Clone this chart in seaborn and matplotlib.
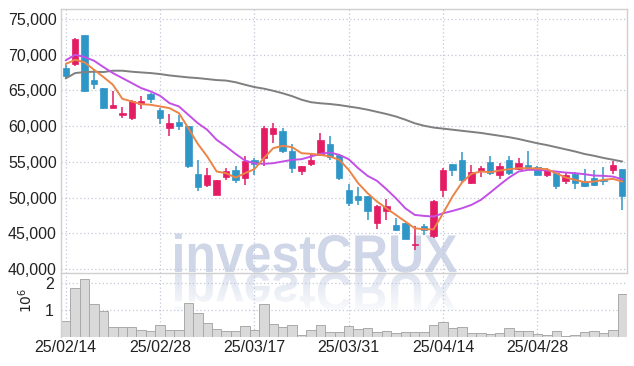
import numpy as np
import pandas as pd
import matplotlib
matplotlib.use('Agg')
import matplotlib.pyplot as plt
import seaborn as sns
from matplotlib.textpath import TextPath
from matplotlib.patches import PathPatch
from matplotlib.font_manager import FontProperties
from matplotlib import transforms

# ---------------- data ----------------
opens = [68150, 68700, 72800, 66450, 65400, 62600, 61500, 61100, 63100, 64550,
         62300, 59800, 60600, 60050, 53300, 51800, 50350, 52850, 53900, 52800,
         55300, 55600, 58950, 59350, 56450, 53650, 54650, 55950, 57500, 55950,
         51050, 50250, 50250, 46400, 48050, 46150, 46500, 43300, 45950, 44550,
         51000, 54700, 55300, 52100, 53750, 54950, 53100, 55300, 53950, 54500,
         54250, 53200, 53500, 52250, 53300, 52350, 52800, 52500, 53800, 54000]
highs = [68600, 72350, 72800, 67950, 65400, 64900, 62650, 63700, 64250, 64700,
         62600, 61700, 61600, 60050, 55200, 54100, 52500, 54100, 54350, 55850,
         55500, 59950, 60400, 59700, 57500, 54400, 56300, 59000, 58550, 55950,
         51950, 51450, 50250, 48950, 49750, 47100, 46500, 45950, 46350, 49650,
         54100, 54700, 56400, 54500, 54350, 55750, 54800, 55750, 55500, 56550,
         54450, 54100, 53500, 53400, 53600, 54000, 53800, 54300, 55150, 54000]
lows = [66600, 68350, 64800, 65200, 62450, 62600, 61200, 60800, 62450, 63250,
        60350, 58550, 59400, 54100, 50950, 51500, 50350, 52450, 52100, 51780,
        53150, 54350, 57600, 56200, 53500, 53200, 54400, 55750, 55300, 52450,
        48750, 48950, 46850, 45550, 46850, 45350, 44200, 42650, 44800, 44300,
        50050, 53000, 52050, 51950, 52900, 53150, 52650, 53150, 53850, 53900,
        53100, 52850, 51250, 51900, 51250, 51450, 51550, 51800, 53300, 48200]
closes = [66950, 72200, 64850, 65950, 62600, 63000, 61800, 63450, 63550, 63850,
          61200, 60400, 59950, 54350, 51450, 53200, 52500, 53650, 52400, 55150,
          54650, 59800, 59800, 56450, 54200, 54350, 55300, 58100, 55650, 52800,
          49300, 49600, 48050, 48850, 48750, 45400, 44250, 43450, 45400, 49550,
          53900, 53800, 52500, 53550, 54100, 53400, 54450, 53400, 54800, 54200,
          53200, 53900, 51650, 53100, 52100, 51550, 51800, 52350, 54600, 50250]
ma_short = [68690, 69300, 68925, 67900, 66870, 65800, 63830, 63460, 63080, 62990,
            62760, 62520, 61820, 59720, 57520, 55750, 53650, 53410, 52800, 53410,
            53970, 55510, 56920, 57240, 57060, 56210, 56120, 55980, 55750, 55280,
            53880, 52010, 50610, 49440, 48500, 47570, 46640, 45700, 45560, 45560,
            47800, 50140, 52100, 53320, 53650, 53550, 53790, 53970, 54110, 54110,
            54070, 53970, 53410, 52800, 52480, 52150, 52240, 52480, 52620, 52240]
ma_mid = [69206, 70000, 69670, 69160, 68270, 67430, 66730, 66030, 65330, 64860,
          64250, 63220, 62760, 61590, 60420, 59490, 58080, 57150, 56120, 55190,
          54810, 54720, 54810, 55050, 55280, 55370, 55750, 56120, 56310, 55980,
          55370, 54110, 53040, 52340, 51170, 49910, 48500, 47570, 47430, 47340,
          47800, 48130, 48500, 48970, 49670, 50700, 51780, 52800, 53640, 53880,
          53880, 53790, 53640, 53500, 53410, 53270, 53080, 53040, 52940, 52570]
ma_long = [66680, 67430, 67570, 67620, 67570, 67760, 67760, 67620, 67520, 67430,
           67290, 67100, 66960, 66820, 66730, 66590, 66450, 66380, 66150, 65800,
           65470, 65250, 64950, 64600, 64200, 63700, 63350, 63200, 63100, 62950,
           62750, 62550, 62300, 62000, 61700, 61350, 60900, 60400, 60050, 59800,
           59650, 59500, 59350, 59200, 59050, 58850, 58650, 58450, 58200, 57900,
           57600, 57350, 57050, 56750, 56450, 56100, 55850, 55550, 55300, 55050]
volume_m = [0.58, 1.83, 2.16, 1.21, 0.98, 0.38, 0.38, 0.38, 0.27, 0.23,
            0.46, 0.27, 0.27, 1.27, 0.90, 0.53, 0.31, 0.23, 0.23, 0.41,
            0.27, 1.23, 0.49, 0.38, 0.46, 0.09, 0.27, 0.46, 0.20, 0.20,
            0.42, 0.31, 0.35, 0.20, 0.23, 0.16, 0.20, 0.20, 0.20, 0.46,
            0.57, 0.35, 0.38, 0.16, 0.16, 0.12, 0.16, 0.35, 0.23, 0.23,
            0.12, 0.09, 0.23, 0.05, 0.09, 0.20, 0.23, 0.16, 0.27, 1.60]
date_tick_pos = [0, 10, 20, 30, 40, 50]
date_tick_labels = ['25/02/14', '25/02/28', '25/03/17', '25/03/31', '25/04/14', '25/04/28']
price_ticks = [40000, 45000, 50000, 55000, 60000, 65000, 70000, 75000]
volume_ticks = [1, 2]

df = pd.DataFrame({'idx': np.arange(len(opens)), 'open': opens, 'high': highs,
                   'low': lows, 'close': closes, 'ma_s': ma_short, 'ma_m': ma_mid,
                   'ma_l': ma_long, 'vol': volume_m})

# ---------------- style ----------------
sns.set_theme(style='white')
plt.rcParams['font.family'] = ['Liberation Sans Narrow', 'Liberation Sans', 'DejaVu Sans']

UP = '#e41c64'
DOWN = '#2f96c8'
GRID = '#c3c8d8'
TXT = '#222222'
TICKFONT = dict(size=11.5)

W, H = 634, 366
fig = plt.figure(figsize=(W / 100, H / 100), dpi=100)
fig.patch.set_facecolor('white')


def rect(l, t, r, b):
    return [l / W, 1 - b / H, (r - l) / W, (b - t) / H]


ax = fig.add_axes(rect(61, 9, 627, 272.7))
axv = fig.add_axes(rect(61, 272.7, 627, 337))
for a in (ax, axv):
    a.set_facecolor('none')

# ---------------- watermark ----------------
fp = FontProperties(family='Liberation Sans', weight='bold')
tp = TextPath((0, 0), 'investCRUX', size=50, prop=fp)
bb = tp.get_extents()
x0, x1, top, base = 175, 457, 233.5, 272.7
sx = (x1 - x0) / bb.width
sy = (base - top) / bb.height
to_in = transforms.Affine2D().scale(1 / 100.0)
tr_main = (transforms.Affine2D().translate(-bb.x0, -bb.y0).scale(sx, sy)
           .translate(x0, H - base) + to_in + fig.dpi_scale_trans)
tr_refl = (transforms.Affine2D().translate(-bb.x0, -bb.y0).scale(sx, -sy)
           .translate(x0, H - base) + to_in + fig.dpi_scale_trans)
wm = PathPatch(tp, transform=tr_main, facecolor='#cfd6e7', edgecolor='none', zorder=-2)
wr = PathPatch(tp, transform=tr_refl, facecolor='#dae0ed', edgecolor='none', zorder=-2)
fig.add_artist(wm)
fig.add_artist(wr)
# fade for reflection
gh = 45
grad = np.ones((gh, 330, 4))
grad[..., 3] = np.linspace(0.1, 1.0, gh)[:, None]
fig.figimage(grad, xo=160, yo=int(H - base - gh), origin='upper', zorder=-1)

# ---------------- candles ----------------
up = df['close'] >= df['open']
colors = np.where(up, UP, DOWN)
body_bottom = np.minimum(df['open'], df['close'])
body_h = np.maximum(np.abs(df['close'] - df['open']), 80)
ax.vlines(df['idx'], df['low'], df['high'], colors=colors, linewidth=1.1, zorder=2)
ax.bar(df['idx'], body_h, bottom=body_bottom, width=0.68, color=colors,
       edgecolor=colors, linewidth=0.5, zorder=2.5)

# moving averages
sns.lineplot(data=df, x='idx', y='ma_l', ax=ax, color='#7f7f7f', linewidth=1.4, zorder=3)
sns.lineplot(data=df, x='idx', y='ma_m', ax=ax, color='#c350e6', linewidth=1.4, zorder=3)
sns.lineplot(data=df, x='idx', y='ma_s', ax=ax, color='#ec8447', linewidth=1.4, zorder=3.2)

# ---------------- volume ----------------
sns.barplot(data=df, x='idx', y='vol', ax=axv, native_scale=True, width=1.0,
            color='#d9d9d9', saturation=1, edgecolor='#a9a9a9', linewidth=0.7, zorder=2)

# ---------------- axes cosmetics ----------------
ax.set_xlim(-0.5, len(opens) - 0.5)
axv.set_xlim(-0.5, len(opens) - 0.5)
ax.set_ylim(39480, 76400)
axv.set_ylim(0, 2.38)

ax.set_yticks(price_ticks)
ax.set_yticklabels([f'{v:,}' for v in price_ticks], **TICKFONT, color=TXT)
ax.set_xticks(date_tick_pos)
ax.tick_params(axis='x', labelbottom=False, length=0)
ax.tick_params(axis='y', length=0, pad=3)
ax.set_xlabel('')
ax.set_ylabel('')

axv.set_yticks(volume_ticks)
axv.set_yticklabels([str(v) for v in volume_ticks], **TICKFONT, color=TXT)
axv.set_xticks(date_tick_pos)
axv.set_xticklabels(date_tick_labels, **TICKFONT, color=TXT)
axv.tick_params(axis='x', length=0, pad=2)
axv.tick_params(axis='y', length=0, pad=5)
axv.set_xlabel('')
axv.set_ylabel(r'$10^6$', fontsize=10, color=TXT, rotation=90)
axv.yaxis.set_label_coords(-0.046, 0.57)

for a in (ax, axv):
    a.grid(True, color=GRID, linestyle=(0, (1, 2)), linewidth=0.9)
    a.set_axisbelow(True)

for s in ax.spines.values():
    s.set_color('#d0d0d0')
    s.set_linewidth(1.0)
for name, s in axv.spines.items():
    s.set_color('#d0d0d0')
    s.set_linewidth(1.0)
    s.set_visible(name in ('left',))

fig.savefig('out.png', dpi=100, facecolor='white')
